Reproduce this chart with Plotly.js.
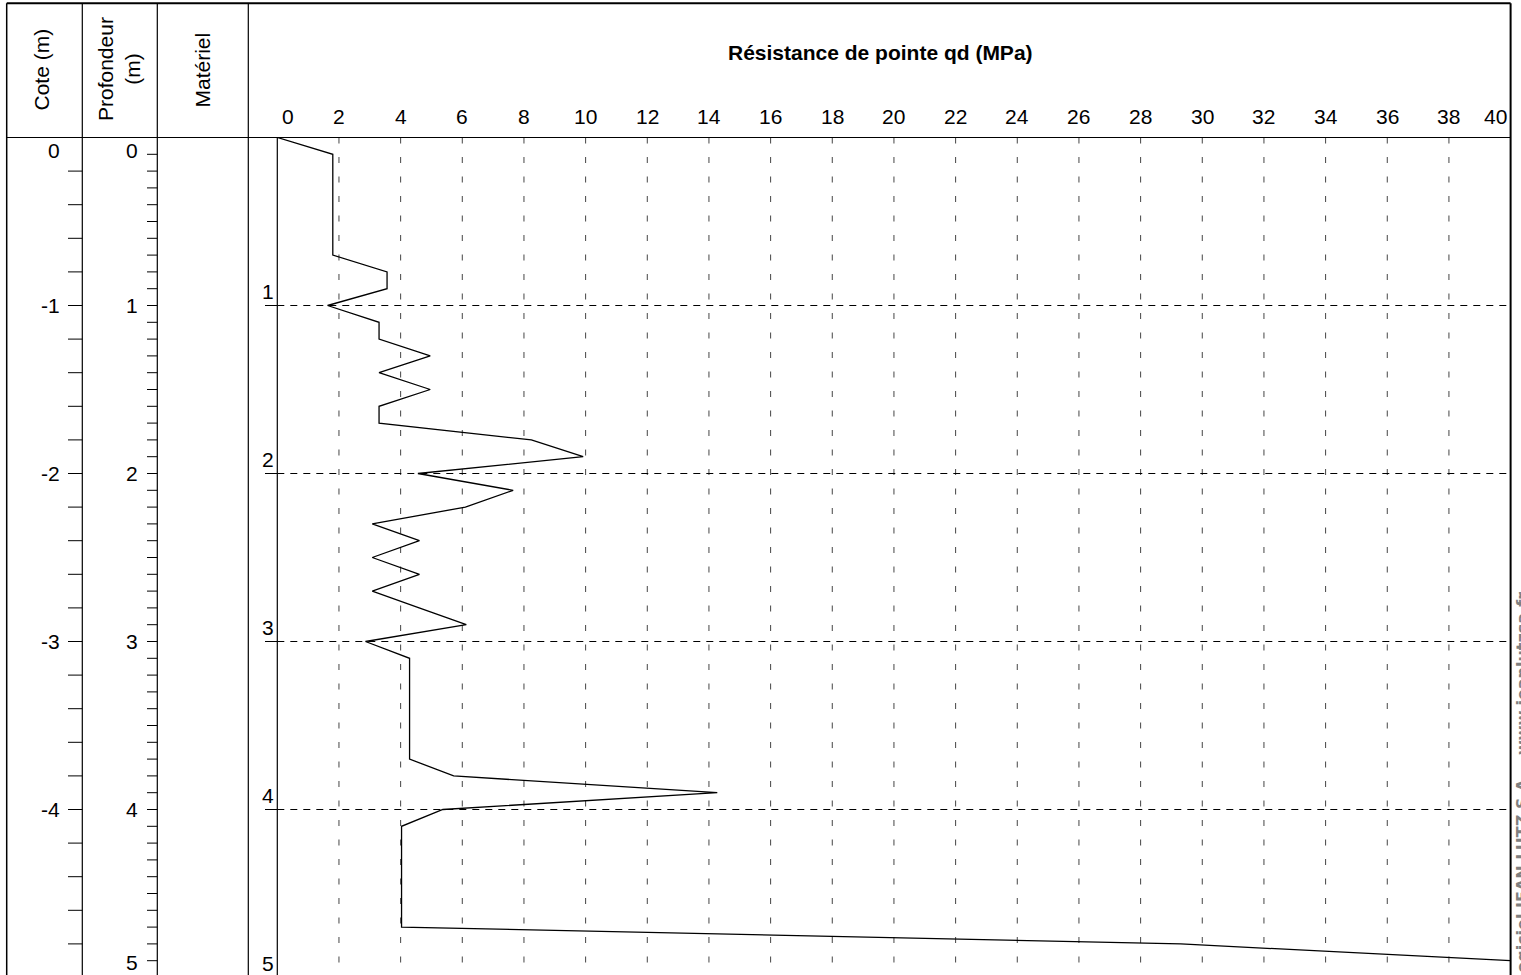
<!DOCTYPE html>
<html>
<head>
<meta charset="utf-8">
<script src="https://cdn.plot.ly/plotly-3.0.1.min.js"></script>
<style>
  html, body { margin: 0; padding: 0; background: #fff; }
  #chart { width: 1521px; height: 975px; }
</style>
</head>
<body>
<div id="chart"></div>
<script>
// ---------- data ----------
const depth = [0.0, 0.1, 0.2, 0.3, 0.4, 0.5, 0.6, 0.7, 0.8, 0.9,
               1.0, 1.1, 1.2, 1.3, 1.4, 1.5, 1.6, 1.7, 1.8, 1.9,
               2.0, 2.1, 2.2, 2.3, 2.4, 2.5, 2.6, 2.7, 2.8, 2.9,
               3.0, 3.1, 3.2, 3.3, 3.4, 3.5, 3.6, 3.7, 3.8, 3.9,
               4.0, 4.1, 4.2, 4.3, 4.4, 4.5, 4.6, 4.7, 4.8, 4.9];
const qd    = [0.0, 1.8, 1.8, 1.8, 1.8, 1.8, 1.8, 1.8, 3.56, 3.56,
               1.63, 3.3, 3.3, 4.96, 3.3, 4.96, 3.3, 3.3, 8.24, 9.92,
               4.56, 7.65, 6.1, 3.08, 4.61, 3.08, 4.61, 3.08, 4.6, 6.13,
               2.86, 4.29, 4.29, 4.29, 4.29, 4.29, 4.29, 4.29, 5.72, 14.27,
               5.37, 4.03, 4.03, 4.03, 4.03, 4.03, 4.03, 4.03, 29.3, 40.0];
const qdTicks      = [0, 2, 4, 6, 8, 10, 12, 14, 16, 18, 20, 22, 24, 26, 28, 30, 32, 34, 36, 38, 40];
const depthMajor   = [0, 1, 2, 3, 4, 5];
const depthLabels  = ['0', '1', '2', '3', '4', '5'];
const coteMajor    = [0, 1, 2, 3, 4];
const coteLabels   = ['0', '-1', '-2', '-3', '-4'];
const coteMinor    = [0.2, 0.4, 0.6, 0.8, 1.0, 1.2, 1.4, 1.6, 1.8, 2.0, 2.2, 2.4, 2.6, 2.8,
                      3.0, 3.2, 3.4, 3.6, 3.8, 4.0, 4.2, 4.4, 4.6, 4.8];
const profMinor    = [0.1, 0.2, 0.3, 0.4, 0.5, 0.6, 0.7, 0.8, 0.9, 1.0, 1.1, 1.2, 1.3, 1.4, 1.5,
                      1.6, 1.7, 1.8, 1.9, 2.0, 2.1, 2.2, 2.3, 2.4, 2.5, 2.6, 2.7, 2.8, 2.9, 3.0,
                      3.1, 3.2, 3.3, 3.4, 3.5, 3.6, 3.7, 3.8, 3.9, 4.0, 4.1, 4.2, 4.3, 4.4, 4.5,
                      4.6, 4.7, 4.8, 4.9];
const hGrid        = [1, 2, 3, 4];
const titleText    = 'Résistance de pointe qd (MPa)';
const headers      = ['Cote (m)', 'Profondeur<br>(m)', 'Matériel'];
const watermark    = 'Logiciel JEAN LUTZ S.A. - www.jeanlutzsa.fr';

// ---------- layout geometry (pixels) ----------
const W = 1521, H = 975;
const px = v => v / W;          // x pixel -> paper
const py = v => 1 - v / H;      // y pixel -> paper
const TOP = 3.3, HEAD = 137.5, LEFT = 6.7;
const COL1 = 82.3, COL2 = 157.3, COL3 = 248.3, AX0 = 277.3, AX1 = 1510.6;
const DEPTH_MAX = (H - HEAD) / 168;   // visible depth at the bottom edge

const FONT = 'Liberation Sans, Arial, sans-serif';
const shapes = [];
const annotations = [];

function pline(x0, y0, x1, y1, w, color, dash) {
  shapes.push({type: 'line', xref: 'paper', yref: 'paper',
    x0: px(x0), y0: py(y0), x1: px(x1), y1: py(y1),
    line: {color: color || '#000', width: w || 1, dash: dash || 'solid'}, layer: 'above'});
}

// frame
pline(LEFT, TOP, AX1, TOP, 2);
pline(LEFT, TOP, LEFT, H, 1.5);
pline(AX1, TOP, AX1, H, 2);
pline(LEFT, HEAD, AX1, HEAD, 1.2);
pline(COL1, TOP, COL1, H, 1.2);
pline(COL2, TOP, COL2, H, 1.2);
pline(COL3, TOP, COL3, H, 1.2);
pline(AX0, HEAD, AX0, H, 1.2);

// vertical dashed grid (qd)
qdTicks.slice(1, -1).forEach(v => {
  shapes.push({type: 'line', xref: 'x', yref: 'paper', x0: v, x1: v, y0: py(HEAD), y1: 0,
    line: {color: '#444', width: 1, dash: '6px,13.5px'}, layer: 'below'});
});
// horizontal dashed grid (depth)
hGrid.forEach(d => {
  shapes.push({type: 'line', xref: 'x', yref: 'y', x0: 0, x1: 40, y0: d, y1: d,
    line: {color: '#000', width: 1, dash: '7px,6px'}, layer: 'below'});
  shapes.push({type: 'line', xref: 'paper', yref: 'y', x0: px(265), x1: px(AX0), y0: d, y1: d,
    line: {color: '#000', width: 1}, layer: 'above'});
});
// cote ticks
coteMinor.forEach(d => {
  shapes.push({type: 'line', xref: 'paper', yref: 'y', x0: px(68), x1: px(COL1), y0: d, y1: d,
    line: {color: '#000', width: 1}});
});
// profondeur ticks
profMinor.forEach(d => {
  shapes.push({type: 'line', xref: 'paper', yref: 'y', x0: px(147), x1: px(COL2), y0: d, y1: d,
    line: {color: '#000', width: 1}});
});

const clampD = d => Math.min(Math.max(d, 0.075), 4.91);
// cote labels
coteMajor.forEach((d, i) => {
  annotations.push({xref: 'paper', yref: 'y', x: px(62), y: clampD(d), xanchor: 'right', yanchor: 'middle',
    text: coteLabels[i], showarrow: false, font: {family: FONT, size: 21, color: '#000'}});
});
// profondeur labels
depthMajor.forEach((d, i) => {
  annotations.push({xref: 'paper', yref: 'y', x: px(139.5), y: clampD(d), xanchor: 'right', yanchor: 'middle',
    text: depthLabels[i], showarrow: false, font: {family: FONT, size: 21, color: '#000'}});
});
// depth labels inside chart column (above each line)
depthMajor.slice(1).forEach((d, i) => {
  annotations.push({xref: 'paper', yref: 'y', x: px(275.5), y: d - 14 / 168, xanchor: 'right', yanchor: 'middle',
    text: depthLabels[i + 1], showarrow: false, font: {family: FONT, size: 21, color: '#000'}});
});
// qd tick labels
qdTicks.forEach((v, i) => {
  const first = i === 0, last = i === qdTicks.length - 1;
  annotations.push({xref: 'x', yref: 'paper', x: v, y: py(116.7),
    xanchor: first ? 'left' : (last ? 'right' : 'center'), xshift: first ? 3 : (last ? -2 : 0),
    yanchor: 'middle', text: String(v), showarrow: false, font: {family: FONT, size: 21, color: '#000'}});
});
// title
annotations.push({xref: 'paper', yref: 'paper', x: px(880), y: py(52), xanchor: 'center', yanchor: 'middle',
  text: '<b>' + titleText + '</b>', showarrow: false, font: {family: FONT, size: 21, color: '#000'}});
// column headers (rotated)
const headerPos = [[41.5, 70], [119, 69], [202.5, 70]];
headers.forEach((t, i) => {
  annotations.push({xref: 'paper', yref: 'paper', x: px(headerPos[i][0]), y: py(headerPos[i][1]),
    xanchor: 'center', yanchor: 'middle', textangle: -90, align: 'center',
    text: t, showarrow: false, font: {family: FONT, size: 21, color: '#000'}});
});
// watermark on the right edge
annotations.push({xref: 'paper', yref: 'paper', x: px(1511), y: py(590), xanchor: 'left', yanchor: 'top',
  textangle: -90, text: '<b>' + watermark + '</b>', showarrow: false,
  font: {family: 'DejaVu Sans, sans-serif', size: 16, color: '#808080'}});

const trace = {
  x: qd, y: depth, type: 'scatter', mode: 'lines',
  line: {color: '#000', width: 1.3}, hoverinfo: 'skip', showlegend: false
};

const layout = {
  width: W, height: H,
  margin: {l: 0, r: 0, t: 0, b: 0, pad: 0},
  paper_bgcolor: '#fff', plot_bgcolor: 'rgba(0,0,0,0)',
  font: {family: FONT, size: 21, color: '#000'},
  showlegend: false,
  xaxis: {domain: [px(AX0), px(AX1)], range: [0, 40], showgrid: false, zeroline: false,
          showticklabels: false, showline: false, ticks: '', fixedrange: true},
  yaxis: {domain: [0, py(HEAD)], range: [DEPTH_MAX, 0], showgrid: false, zeroline: false,
          showticklabels: false, showline: false, ticks: '', fixedrange: true},
  shapes: shapes,
  annotations: annotations
};

Plotly.newPlot('chart', [trace], layout, {staticPlot: true, displayModeBar: false});
</script>
</body>
</html>
